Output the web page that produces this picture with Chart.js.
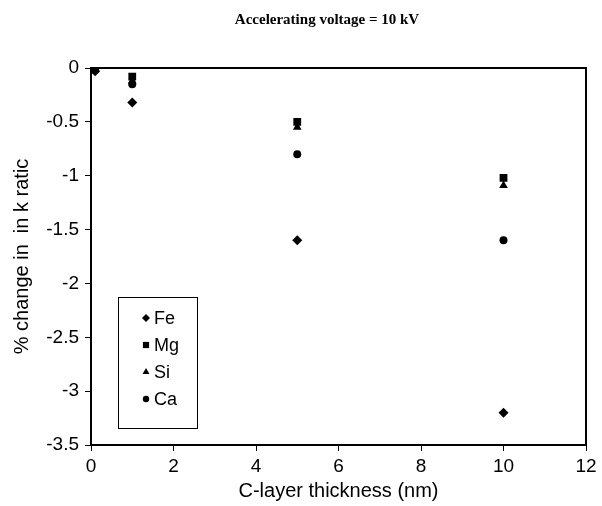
<!DOCTYPE html>
<html>
<head>
<meta charset="utf-8">
<script src="https://cdn.jsdelivr.net/npm/chart.js@4/dist/chart.umd.min.js"></script>
<style>
  html, body { margin: 0; padding: 0; background: #fff; }
  #wrap { width: 602px; height: 506px; }
</style>
</head>
<body>
<div id="wrap"><canvas id="chart" width="602" height="506"></canvas></div>
<script>
// thickness of the C layer (nm)
const thickness = [0.1, 1, 5, 10];

// % change in k ratio, per element
const fe = [-0.03, -0.32, -1.6, -3.2];
const mg = [0, -0.08, -0.5, -1.02];
const si = [-0.01, -0.12, -0.55, -1.09];
const ca = [-0.02, -0.15, -0.8, -1.6];

const xTicks = [0, 2, 4, 6, 8, 10, 12];
const yTicks = [0, -0.5, -1, -1.5, -2, -2.5, -3, -3.5];

const series = [
  { label: "Fe", values: fe, style: "rectRot", radius: 5 },
  { label: "Mg", values: mg, style: "rect", radius: 5.5 },
  { label: "Si", values: si, style: "triangle", radius: 5 },
  { label: "Ca", values: ca, style: "circle", radius: 4 }
];

const toPoints = (vals) => vals.map((v, i) => ({ x: thickness[i], y: v }));

const tickFont = { family: "Liberation Sans", size: 19 };
const titleFont = { family: "Liberation Sans", size: 20 };

// frame round the plot, title and the boxed legend
const extras = {
  id: "extras",
  afterDraw(chart) {
    const { ctx, chartArea: a } = chart;
    ctx.save();
    ctx.strokeStyle = "#000";
    ctx.lineWidth = 2;
    ctx.strokeRect(a.left, a.top, a.right - a.left, a.bottom - a.top);

    ctx.fillStyle = "#000";
    ctx.font = "bold 15px 'Liberation Serif'";
    ctx.textAlign = "center";
    ctx.textBaseline = "middle";
    ctx.fillText("Accelerating voltage = 10 kV", 327, 20);

    // legend
    ctx.lineWidth = 1;
    ctx.strokeRect(118.5, 297.5, 79, 131);
    ctx.font = "18px 'Liberation Sans'";
    ctx.textAlign = "left";
    chart.data.datasets.forEach((ds, i) => {
      const y = 318 + i * 27;
      Chart.helpers.drawPoint(ctx, {
        pointStyle: ds.pointStyle,
        radius: ds.pointRadius * 0.8,
        borderWidth: 0
      }, 146, y);
      ctx.fillStyle = "#000";
      ctx.fillText(ds.label, 154, y + 1);
    });
    ctx.restore();
  }
};

new Chart(document.getElementById("chart"), {
  type: "scatter",
  data: {
    datasets: series.map(s => ({
      label: s.label,
      data: toPoints(s.values),
      pointStyle: s.style,
      pointRadius: s.radius,
      pointHoverRadius: s.radius,
      backgroundColor: "#000",
      borderColor: "#000",
      borderWidth: 0
    }))
  },
  options: {
    responsive: false,
    animation: false,
    layout: { padding: { top: 68, right: 16, left: 0, bottom: 0 } },
    plugins: { legend: { display: false }, tooltip: { enabled: false } },
    scales: {
      x: {
        type: "linear",
        min: 0,
        max: 12,
        afterBuildTicks: (s) => { s.ticks = xTicks.map(v => ({ value: v })); },
        afterFit: (s) => { s.height = 61; },
        grid: { drawOnChartArea: false, tickLength: 6, tickColor: "#000", tickWidth: 1 },
        border: { display: true, color: "#000", width: 2 },
        ticks: { color: "#000", font: tickFont, padding: 4, maxRotation: 0,
                 callback: (v) => String(v) },
        title: { display: true, text: "C-layer thickness (nm)", color: "#000",
                 font: titleFont, padding: { top: 0, bottom: 3 } }
      },
      y: {
        type: "linear",
        min: -3.5,
        max: 0,
        afterBuildTicks: (s) => { s.ticks = yTicks.map(v => ({ value: v })); },
        afterFit: (s) => { s.width = 91; },
        grid: { drawOnChartArea: false, tickLength: 6, tickColor: "#000", tickWidth: 1 },
        border: { display: true, color: "#000", width: 2 },
        ticks: { color: "#000", font: tickFont, padding: 6,
                 callback: (v) => String(v) },
        title: { display: true, text: "% change in  in k ratic", color: "#000",
                 font: titleFont, padding: { top: 10, bottom: 0 } }
      }
    }
  },
  plugins: [extras]
});
</script>
</body>
</html>
